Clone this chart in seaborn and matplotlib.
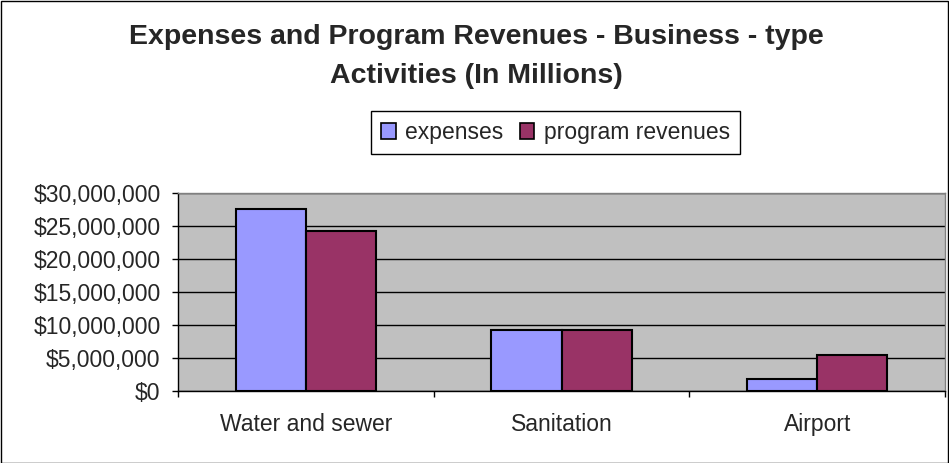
import matplotlib
matplotlib.use("Agg")
import matplotlib.pyplot as plt
import seaborn as sns
import pandas as pd
from matplotlib.patches import Rectangle
from matplotlib.ticker import FuncFormatter, FixedLocator

categories = ["Water and sewer", "Sanitation", "Airport"]
expenses = [27500000, 9300000, 1850000]
program_revenues = [24200000, 9300000, 5450000]
series_names = ["expenses", "program revenues"]
colors = ["#9999FF", "#993366"]
y_ticks = [0, 5000000, 10000000, 15000000, 20000000, 25000000, 30000000]

df = pd.DataFrame({
    "category": categories * 2,
    "value": expenses + program_revenues,
    "series": [series_names[0]] * 3 + [series_names[1]] * 3,
})

sns.set_style("white")
plt.rcParams['font.family'] = ['Liberation Sans', 'DejaVu Sans']

FS = 16.5
fig = plt.figure(figsize=(9.49, 4.63), dpi=100)
ax = fig.add_axes([178/949, 1-391/463, (945-178)/949, (391-193)/463])
sns.barplot(data=df, x="category", y="value", hue="series", palette=colors,
            width=0.55, edgecolor="black", linewidth=1.5, ax=ax, saturation=1,
            legend=False)
ax.set_facecolor("#C0C0C0")
ax.set_xlim(-0.5, 2.5)
ax.set_ylim(0, 30000000)
ax.yaxis.set_major_locator(FixedLocator(y_ticks))
ax.yaxis.set_major_formatter(FuncFormatter(lambda v, p: "${:,.0f}".format(v)))
ax.grid(axis="y", color="black", linewidth=1)
ax.set_axisbelow(True)
ax.set_xlabel("")
ax.set_ylabel("")
ax.tick_params(axis="y", which="major", direction="out", length=4.5, width=1,
               color="black", labelsize=FS, pad=8, left=True)
ax.set_xticks([0, 1, 2])
ax.set_xticklabels(categories)
ax.tick_params(axis="x", which="major", length=0, labelsize=FS, pad=16)
ax.set_xticks([-0.5, 0.5, 1.5, 2.5], minor=True)
ax.tick_params(axis="x", which="minor", direction="out", length=4.5, width=1,
               color="black", bottom=True)
for s in ["left", "bottom"]:
    ax.spines[s].set_color("black")
    ax.spines[s].set_linewidth(1)
for s in ["top", "right"]:
    ax.spines[s].set_color("#808080")
    ax.spines[s].set_linewidth(1)

fig.text(476/949, 1-37/463, "Expenses and Program Revenues - Business - type",
         ha="center", va="center", fontsize=20.5, fontweight="bold")
fig.text(476/949, 1-76/463, "Activities (In Millions)",
         ha="center", va="center", fontsize=20.5, fontweight="bold")

handles = [Rectangle((0, 0), 1, 1, facecolor=c, edgecolor="black", linewidth=1.2)
           for c in colors]
leg = fig.legend(handles, series_names, loc="center",
                 bbox_to_anchor=(555.5/949, 1-132.5/463), ncol=2, frameon=True,
                 fancybox=False, edgecolor="black", fontsize=FS,
                 handlelength=0.65, handleheight=0.65, handletextpad=0.4,
                 columnspacing=0.7, borderpad=0.45, borderaxespad=0,
                 framealpha=1)
leg.get_frame().set_linewidth(1)

fig.patches.append(Rectangle((0.5/949, 0.5/463), 947.5/949, 461.5/463,
                             transform=fig.transFigure, fill=False,
                             edgecolor="black", linewidth=1))
fig.savefig("out.png", dpi=100)
